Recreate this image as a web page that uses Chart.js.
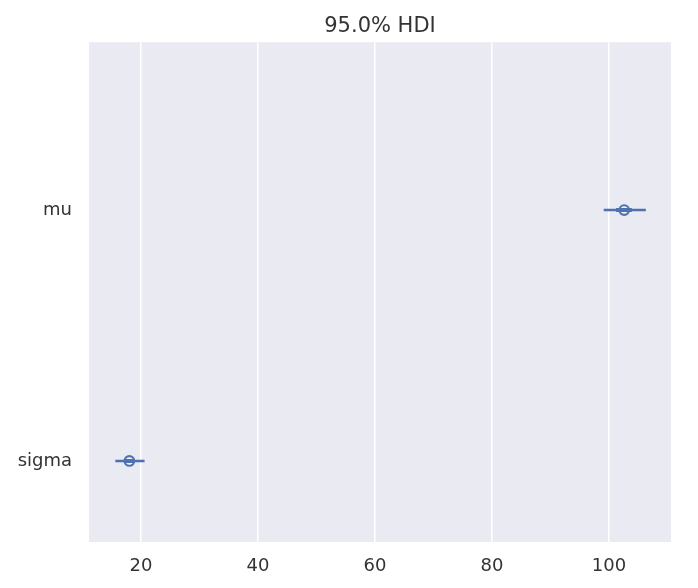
<!DOCTYPE html>
<html>
<head>
<meta charset="utf-8">
<script src="https://cdn.jsdelivr.net/npm/chart.js@4/dist/chart.umd.min.js"></script>
<style>
  html, body { margin: 0; padding: 0; background: #fff; }
  #wrap { width: 698px; height: 588px; }
</style>
</head>
<body>
<div id="wrap"><canvas id="forest" width="698" height="588"></canvas></div>
<script>
// forest plot values
const params = ['mu', 'sigma']
const hdiLow = [99.1, 15.6]
const hdiHigh = [106.3, 20.6]
const q25 = [101.2, 17.2]
const q75 = [103.9, 18.9]
const medians = [102.6, 18.0]
const xTicks = [20, 40, 60, 80, 100]

const blue = '#4c72b0'
const rows = params.map((p, i) => params.length - 1 - i)

const datasets = []
params.forEach((p, i) => {
  datasets.push({
    type: 'line',
    data: [{ x: hdiLow[i], y: rows[i] }, { x: hdiHigh[i], y: rows[i] }],
    borderColor: blue,
    borderWidth: 2.5,
    pointRadius: 0
  })
  datasets.push({
    type: 'line',
    data: [{ x: q25[i], y: rows[i] }, { x: q75[i], y: rows[i] }],
    borderColor: blue,
    borderWidth: 4,
    pointRadius: 0
  })
})
datasets.push({
  type: 'scatter',
  data: params.map((p, i) => ({ x: medians[i], y: rows[i] })),
  backgroundColor: '#f4f4f8',
  borderColor: blue,
  borderWidth: 2.2,
  pointRadius: 4.8
})

const plotBg = {
  id: 'plotBg',
  beforeDraw(chart) {
    const a = chart.chartArea
    const ctx = chart.ctx
    ctx.save()
    ctx.fillStyle = '#eaeaf2'
    ctx.fillRect(a.left, a.top, a.right - a.left, a.bottom - a.top)
    ctx.restore()
  }
}

const font = "'DejaVu Sans', sans-serif"
const textColor = '#333333'

new Chart(document.getElementById('forest'), {
  type: 'scatter',
  data: { datasets: datasets },
  plugins: [plotBg],
  options: {
    responsive: false,
    animation: false,
    layout: { padding: { right: 27 } },
    plugins: {
      legend: { display: false },
      tooltip: { enabled: false },
      title: {
        display: true,
        text: '95.0% HDI',
        fullSize: false,
        color: textColor,
        font: { family: font, size: 21, weight: 'normal', lineHeight: 1.2 },
        padding: { top: 14, bottom: 3 }
      }
    },
    scales: {
      x: {
        type: 'linear',
        min: 11.1,
        max: 110.6,
        afterBuildTicks: s => { s.ticks = xTicks.map(v => ({ value: v })) },
        afterFit: s => { s.height = 46 },
        grid: { color: '#ffffff', lineWidth: 1.5, drawTicks: false },
        border: { display: false },
        ticks: {
          color: textColor,
          padding: 14,
          font: { family: font, size: 18 }
        }
      },
      y: {
        type: 'linear',
        min: -0.323,
        max: 1.669,
        afterBuildTicks: s => { s.ticks = rows.map(v => ({ value: v })) },
        afterFit: s => { s.width = 89 },
        grid: { display: false, drawTicks: false },
        border: { display: false },
        ticks: {
          color: textColor,
          padding: 17,
          font: { family: font, size: 18 },
          callback: v => params[rows.indexOf(v)]
        }
      }
    }
  }
})
</script>
</body>
</html>
